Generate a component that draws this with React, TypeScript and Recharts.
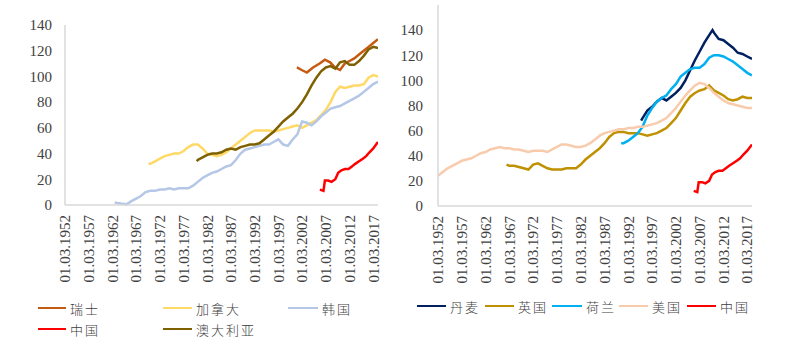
import React from 'react';
import { LineChart, Line, XAxis, YAxis } from 'recharts';

// ---------- tick labels ----------
const xTicks = [1952, 1957, 1962, 1967, 1972, 1977, 1982, 1987, 1992, 1997, 2002, 2007, 2012, 2017];
const yTicks = [0, 20, 40, 60, 80, 100, 120, 140];

// ---------- left panel ----------
const swissYears = [2000.9, 2001.9, 2003, 2004.3, 2005.7, 2006.8, 2007.9, 2008.9, 2010, 2011, 2012, 2013, 2014, 2015, 2016, 2017, 2018];
const swissValues = [107, 105, 103, 107, 110, 113, 111, 107, 105, 110, 112, 114, 117, 120, 123, 126, 129];

const canadaYears = [1969.6, 1970, 1971, 1972, 1973, 1974, 1975, 1976, 1977, 1978, 1979, 1980, 1981, 1982, 1983, 1984, 1985, 1986, 1987, 1988, 1989, 1990, 1991, 1992, 1993, 1994, 1995, 1996, 1997, 1998, 1999, 2000, 2001, 2002, 2003, 2004, 2005, 2006, 2007, 2008, 2009, 2010, 2011, 2012, 2013, 2014, 2015, 2016, 2017, 2018];
const canadaValues = [32, 32, 34, 36, 38, 39, 40, 40, 42, 45, 47, 47, 44, 40, 39, 38, 39, 41, 44, 47, 50, 53, 56, 58, 58, 58, 58, 57, 58, 59, 60, 61, 62, 60, 62, 64, 66, 70, 74, 80, 88, 92, 91, 92, 93, 93, 94, 99, 101, 100];

const koreaYears = [1962.5, 1963, 1964, 1965, 1966, 1967, 1968, 1969, 1970, 1971, 1972, 1973, 1974, 1975, 1976, 1977, 1978, 1979, 1980, 1981, 1982, 1983, 1984, 1985, 1986, 1987, 1988, 1989, 1990, 1991, 1992, 1993, 1994, 1995, 1996, 1997, 1998, 1999, 2000, 2001, 2002, 2003, 2004, 2005, 2006, 2007, 2008, 2009, 2010, 2011, 2012, 2013, 2014, 2015, 2016, 2017, 2018];
const koreaValues = [2, 1.5, 1, 0.5, 3, 5, 7, 10, 11, 11, 12, 12, 13, 12, 13, 13, 13, 15, 18, 21, 23, 25, 26, 28, 30, 31, 35, 40, 43, 44, 45, 46, 47, 47, 49, 51, 47, 46, 51, 55, 65, 64, 62, 65, 69, 72, 75, 76, 77, 79, 81, 83, 85, 88, 91, 94, 96];

const chinaYears = [2005.75, 2006.5, 2006.8, 2007.5, 2008.2, 2009, 2009.6, 2010.3, 2011, 2011.8, 2012.5, 2013.2, 2014, 2014.8, 2015.5, 2016.2, 2017, 2017.6, 2018];
const chinaValues = [12, 11, 19, 19, 18, 20, 25, 27, 28, 28, 30, 32, 34, 36, 38, 41, 44, 47, 49];

const australiaYears = [1979.8, 1980, 1981, 1982, 1983, 1984, 1985, 1986, 1987, 1988, 1989, 1990, 1991, 1992, 1993, 1994, 1995, 1996, 1997, 1998, 1999, 2000, 2001, 2002, 2003, 2004, 2005, 2006, 2007, 2008, 2009, 2010, 2011, 2012, 2013, 2014, 2015, 2016, 2017, 2018];
const australiaValues = [34, 35, 37, 39, 40, 40, 41, 43, 44, 43, 45, 46, 47, 47, 48, 51, 54, 57, 61, 65, 68, 71, 75, 80, 86, 93, 99, 104, 107, 108, 106, 111, 112, 109, 109, 112, 116, 121, 123, 122];

// ---------- right panel ----------
const denmarkYears = [1994.7, 1995, 1996, 1997, 1998, 1999, 2000, 2001, 2002, 2003, 2004, 2005, 2006, 2007, 2008, 2009, 2009.7, 2010, 2011, 2012, 2013, 2014, 2015, 2016, 2017, 2018];
const denmarkValues = [68, 70, 76, 79, 83, 86, 84, 87, 90, 94, 100, 108, 116, 123, 130, 136, 140, 138, 133, 132, 129, 126, 122, 121, 119, 117];

const ukYears = [1966.4, 1967, 1968, 1969, 1970, 1971, 1972, 1973, 1974, 1975, 1976, 1977, 1978, 1979, 1980, 1981, 1982, 1983, 1984, 1985, 1986, 1987, 1988, 1989, 1990, 1991, 1992, 1993, 1994, 1995, 1996, 1997, 1998, 1999, 2000, 2001, 2002, 2003, 2004, 2005, 2006, 2007, 2008, 2009, 2010, 2011, 2012, 2013, 2014, 2015, 2016, 2017, 2018];
const ukValues = [33, 32, 32, 31, 30, 29, 33, 34, 32, 30, 29, 29, 29, 30, 30, 30, 33, 37, 40, 43, 46, 50, 55, 58, 59, 59, 58, 58, 58, 57, 56, 57, 58, 60, 62, 66, 70, 76, 82, 87, 90, 92, 93, 96, 92, 90, 88, 85, 84, 85, 87, 86, 86];

const netherlandsYears = [1990.5, 1991, 1992, 1993, 1994, 1995, 1996, 1997, 1998, 1999, 2000, 2001, 2002, 2003, 2004, 2005, 2006, 2007, 2008, 2009, 2010, 2011, 2012, 2013, 2014, 2015, 2016, 2017, 2018];
const netherlandsValues = [50, 50, 52, 55, 58, 63, 72, 78, 83, 86, 88, 93, 97, 103, 106, 109, 110, 110, 113, 118, 120, 120, 119, 117, 115, 112, 109, 106, 104];

const usaYears = [1952, 1953, 1954, 1955, 1956, 1957, 1958, 1959, 1960, 1961, 1962, 1963, 1964, 1965, 1966, 1967, 1968, 1969, 1970, 1971, 1972, 1973, 1974, 1975, 1976, 1977, 1978, 1979, 1980, 1981, 1982, 1983, 1984, 1985, 1986, 1987, 1988, 1989, 1990, 1991, 1992, 1993, 1994, 1995, 1996, 1997, 1998, 1999, 2000, 2001, 2002, 2003, 2004, 2005, 2006, 2007, 2008, 2009, 2010, 2011, 2012, 2013, 2014, 2015, 2016, 2017, 2018];
const usaValues = [24, 27, 30, 32, 34, 36, 37, 38, 40, 42, 43, 45, 46, 47, 46, 46, 45, 45, 44, 43, 44, 44, 44, 43, 45, 47, 49, 49, 48, 47, 47, 48, 50, 53, 56, 58, 59, 60, 61, 61, 62, 62, 63, 63, 64, 65, 66, 68, 70, 74, 78, 83, 88, 92, 96, 98, 97, 94, 90, 87, 84, 82, 81, 80, 79, 78, 78];

type Series = { name: string; color: string; years: number[]; values: number[] };

const leftSeries: Series[] = [
  { name: '瑞士', color: '#C55A11', years: swissYears, values: swissValues },
  { name: '加拿大', color: '#FFD966', years: canadaYears, values: canadaValues },
  { name: '韩国', color: '#B4C7E7', years: koreaYears, values: koreaValues },
  { name: '中国', color: '#FF0000', years: chinaYears, values: chinaValues },
  { name: '澳大利亚', color: '#7F6000', years: australiaYears, values: australiaValues },
];

const rightSeries: Series[] = [
  { name: '丹麦', color: '#002060', years: denmarkYears, values: denmarkValues },
  { name: '英国', color: '#BF9000', years: ukYears, values: ukValues },
  { name: '荷兰', color: '#00B0F0', years: netherlandsYears, values: netherlandsValues },
  { name: '美国', color: '#F8CBAD', years: usaYears, values: usaValues },
  { name: '中国', color: '#FF0000', years: chinaYears, values: chinaValues },
];

const toData = (s: Series) => s.years.map((x, i) => ({ x, v: s.values[i] }));

const AXIS_COLOR = '#D9D9D9';
const TEXT_COLOR = '#404040';
const SERIF = '"Liberation Serif", "Times New Roman", serif';

const XTick = (props: any) => {
  const { x, y, payload } = props;
  return (
    <text
      x={0}
      y={0}
      dy="0.35em"
      textAnchor="end"
      transform={`translate(${x},${y + 2}) rotate(-90)`}
      fontFamily={SERIF}
      fontSize={15}
      fill={TEXT_COLOR}
    >
      {`01.03.${payload.value}`}
    </text>
  );
};

type PanelProps = {
  series: Series[];
  left: number;
  width: number;
  margin: { top: number; right: number; bottom: number; left: number };
  yWidth: number;
  yMax: number;
  tickMargin: number;
};

const Panel = ({ series, left, width, margin, yWidth, yMax, tickMargin }: PanelProps) => (
  <div style={{ position: 'absolute', left, top: 0 }}>
    <LineChart width={width} height={348} margin={margin}>
      <XAxis
        type="number"
        dataKey="x"
        domain={[1952, 2018]}
        ticks={xTicks}
        interval={0}
        height={80}
        tickLine={false}
        axisLine={{ stroke: AXIS_COLOR, strokeWidth: 1.5 }}
        tick={<XTick />}
        allowDataOverflow
      />
      <YAxis
        type="number"
        domain={[0, yMax]}
        ticks={yTicks}
        interval={0}
        width={yWidth}
        tickLine={false}
        tickMargin={tickMargin}
        axisLine={{ stroke: AXIS_COLOR, strokeWidth: 1.5 }}
        tick={{ fontFamily: SERIF, fontSize: 15, fill: TEXT_COLOR }}
      />
      {series.map((s) => (
        <Line
          key={s.name}
          data={toData(s)}
          dataKey="v"
          name={s.name}
          type="linear"
          stroke={s.color}
          strokeWidth={2.5}
          dot={false}
          activeDot={false}
          isAnimationActive={false}
        />
      ))}
    </LineChart>
  </div>
);

type LegendItem = { name: string; color: string; lineX: number; lineW: number; y: number };

const LegendEntry = ({ item }: { item: LegendItem }) => (
  <div
    style={{
      position: 'absolute',
      left: item.lineX,
      top: item.y - 10,
      height: 20,
      display: 'flex',
      alignItems: 'center',
      whiteSpace: 'nowrap',
    }}
  >
    <span style={{ display: 'inline-block', width: item.lineW, height: 2.5, background: item.color }} />
    <span
      style={{
        marginLeft: 4,
        fontFamily: '"Noto Sans CJK SC", sans-serif',
        fontWeight: 300,
        fontSize: 13,
        letterSpacing: 2,
        color: TEXT_COLOR,
      }}
    >
      {item.name}
    </span>
  </div>
);

const leftLegendPos = [
  { lineX: 38, lineW: 28, y: 308 },
  { lineX: 163, lineW: 29, y: 308 },
  { lineX: 288, lineW: 30, y: 308 },
  { lineX: 38, lineW: 28, y: 329 },
  { lineX: 163, lineW: 29, y: 329 },
];
const rightLegendPos = [
  { lineX: 417, lineW: 29, y: 306 },
  { lineX: 485, lineW: 29, y: 306 },
  { lineX: 552, lineW: 30, y: 306 },
  { lineX: 619, lineW: 29, y: 306 },
  { lineX: 687, lineW: 29, y: 306 },
];

export default function App() {
  const leftItems: LegendItem[] = leftSeries.map((s, i) => ({ name: s.name, color: s.color, ...leftLegendPos[i] }));
  const rightItems: LegendItem[] = rightSeries.map((s, i) => ({ name: s.name, color: s.color, ...rightLegendPos[i] }));
  return (
    <div style={{ position: 'absolute', left: 0, top: 0, width: 804, height: 348, background: '#fff', overflow: 'hidden' }}>
      <Panel
        series={leftSeries}
        left={0}
        width={400}
        margin={{ top: 25, right: 22, bottom: 63, left: 0 }}
        yWidth={65}
        yMax={140}
        tickMargin={7}
      />
      <Panel
        series={rightSeries}
        left={400}
        width={404}
        margin={{ top: 5, right: 52, bottom: 62, left: 0 }}
        yWidth={38}
        yMax={160}
        tickMargin={9}
      />
      {leftItems.map((it, i) => (
        <LegendEntry key={'l' + i} item={it} />
      ))}
      {rightItems.map((it, i) => (
        <LegendEntry key={'r' + i} item={it} />
      ))}
    </div>
  );
}
